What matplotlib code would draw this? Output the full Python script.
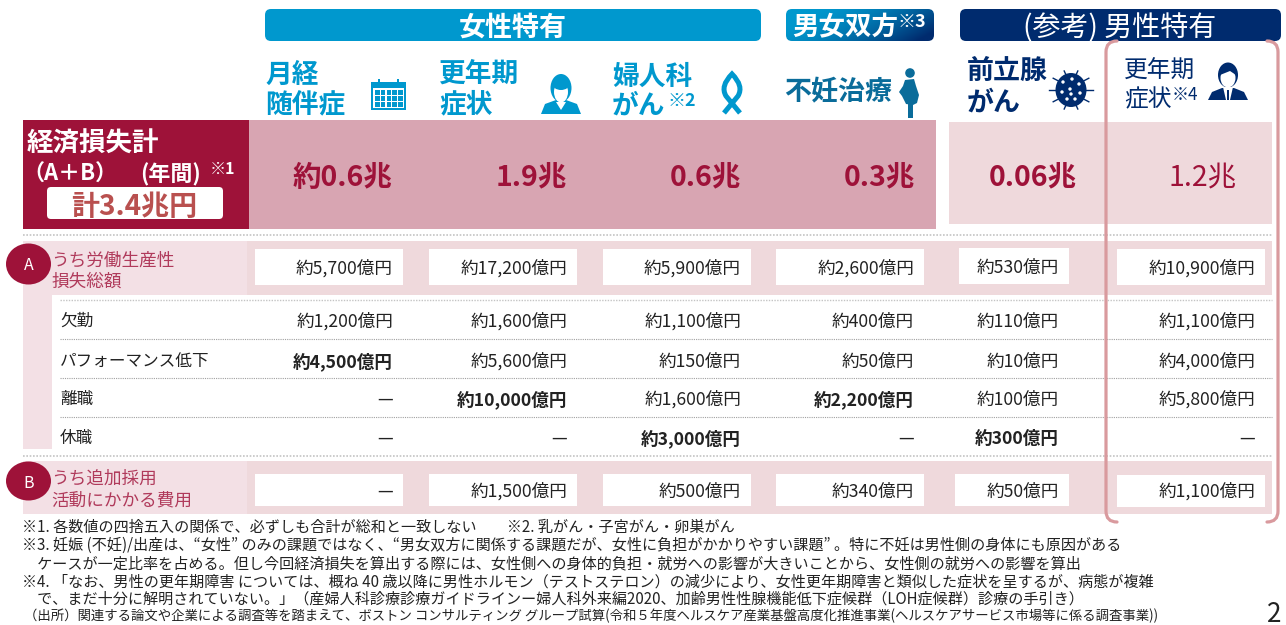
import numpy as np
import matplotlib
matplotlib.use('Agg')
import matplotlib.pyplot as plt
from matplotlib.patches import Rectangle, FancyBboxPatch, Circle, Ellipse, Polygon
from matplotlib.path import Path
from matplotlib.patches import PathPatch

plt.rcParams['font.family'] = ['Noto Sans CJK JP', 'DejaVu Sans']

# datos de la tabla
totals = ['約0.6兆', '1.9兆', '0.6兆', '0.3兆', '0.06兆', '1.2兆']
row_a = ['約5,700億円', '約17,200億円', '約5,900億円', '約2,600億円', '約530億円', '約10,900億円']
absent = ['約1,200億円', '約1,600億円', '約1,100億円', '約400億円', '約110億円', '約1,100億円']
perform = ['約4,500億円', '約5,600億円', '約150億円', '約50億円', '約10億円', '約4,000億円']
leave = ['—', '約10,000億円', '約1,600億円', '約2,200億円', '約100億円', '約5,800億円']
suspend = ['—', '—', '約3,000億円', '—', '約300億円', '—']
row_b = ['—', '約1,500億円', '約500億円', '約340億円', '約50億円', '約1,100億円']
sub_labels = ['欠勤', 'パフォーマンス低下', '離職', '休職']
sub_rows = [absent, perform, leave, suspend]
bold_cells = [(1, 0), (2, 1), (3, 2), (2, 3), (3, 4)]  # (fila, columna)

footnotes = [
    '※1. 各数値の四捨五入の関係で、必ずしも合計が総和と一致しない　　※2. 乳がん・子宮がん・卵巣がん',
    '※3. 妊娠 (不妊)/出産は、“女性” のみの課題ではなく、“男女双方に関係する課題だが、女性に負担がかかりやすい課題” 。特に不妊は男性側の身体にも原因がある',
    '　ケースが一定比率を占める。但し今回経済損失を算出する際には、女性側への身体的負担・就労への影響が大きいことから、女性側の就労への影響を算出',
    '※4. 「なお、男性の更年期障害 については、概ね 40 歳以降に男性ホルモン（テストステロン）の減少により、女性更年期障害と類似した症状を呈するが、病態が複雑',
    '　で、まだ十分に解明されていない。」（産婦人科診療診療ガイドラインー婦人科外来編2020、加齢男性性腺機能低下症候群（LOH症候群）診療の手引き）',
]
source = '（出所）関連する論文や企業による調査等を踏まえて、ボストン コンサルティング グループ試算(令和５年度ヘルスケア産業基盤高度化推進事業(ヘルスケアサービス市場等に係る調査事業))'

# colores
CRIMSON = '#9E1239'
PINK = '#D8A5B2'
LIGHT = '#EFD9DC'
LIGHTER = '#F3E0E5'
BLUE = '#0098CE'
NAVY = '#002B6E'
TEAL = '#0A6C9A'
BRACKET = '#D99A9E'
INK = '#222222'
LABEL = '#B03A5B'

# posiciones (pixeles de la imagen)
col_right = [393, 567, 741, 914, 1059, 1255]
cell_a = [(255, 403), (429, 577), (603, 751), (776, 924), (959, 1069), (1117, 1265)]
cell_b = [(255, 403), (429, 577), (603, 751), (776, 924), (955, 1069), (1117, 1265)]
sub_y = [319.5, 359.5, 397.5, 436.5]
total_right = [392, 567, 741, 915, 1077, 1237]
CELL = 17.6

fig = plt.figure(figsize=(12.86, 6.25), dpi=100)
ax = fig.add_axes([0, 0, 1, 1])


def px(size):
    return size * 0.72


def rect(x0, y0, x1, y1, color, z=1):
    ax.add_patch(Rectangle((x0, y0), x1 - x0, y1 - y0, fc=color, ec='none', zorder=z))


def rbox(x0, y0, x1, y1, color, r=6, z=2):
    p = FancyBboxPatch((x0, y0), x1 - x0, y1 - y0, boxstyle=f'round,pad=0,rounding_size={r}',
                       fc=color, ec='none', zorder=z)
    ax.add_patch(p)
    return p


def txt(x, y, s, size, color=INK, weight='normal', ha='left', z=5):
    return ax.text(x, y, s, fontsize=px(size), color=color, fontweight=weight, ha=ha,
                   va='center_baseline', zorder=z)


def dotted(x0, x1, y, lw=0.8, color='#a0a0a0'):
    ax.plot([x0, x1], [y, y], color=color, lw=lw, ls=(0, (1, 1)), zorder=3)


# cabeceras de grupo
rbox(265, 9, 761, 41, BLUE)
txt(513, 24.5, '女性特有', 27, 'white', 'bold', 'center')
grad_box = rbox(786, 9, 934, 41, 'none')
grad = np.linspace(0, 1, 200).reshape(1, -1)
yy = np.linspace(0, 1, 40).reshape(-1, 1)
mix = np.clip(grad * 0.9 + yy * 0.35 - 0.15, 0, 1) ** 1.6
c0 = np.array([0x00, 0x98, 0xCE]) / 255
c1 = np.array([0x00, 0x2B, 0x6E]) / 255
rgb = c0[None, None, :] * (1 - mix[..., None]) + c1[None, None, :] * mix[..., None]
im = ax.imshow(rgb, extent=[786, 934, 41, 9], aspect='auto', zorder=2)
im.set_clip_path(grad_box)
txt(792, 25, '男女双方', 26.5, 'white', 'bold')
txt(897, 20, '※3', 18, 'white', 'bold')
rbox(960, 9, 1281, 41, NAVY)
txt(1120, 24.5, '(参考) 男性特有', 28, 'white', 'normal', 'center')

# nombres de columnas
txt(265, 72, '月経', 26.7, BLUE, 'bold')
txt(265, 103, '随伴症', 26.7, BLUE, 'bold')
txt(439, 71, '更年期', 26.7, BLUE, 'bold')
txt(439, 102, '症状', 26.7, BLUE, 'bold')
txt(612, 74, '婦人科', 26.7, BLUE, 'bold')
txt(612, 103, 'がん', 26.7, BLUE, 'bold')
txt(668, 99, '※2', 18, BLUE, 'bold')
txt(784, 89, '不妊治療', 27, TEAL, 'bold')
txt(967, 68, '前立腺', 27, NAVY, 'bold')
txt(967, 100, 'がん', 27, NAVY, 'bold')
txt(1124, 69, '更年期', 23.7, NAVY)
txt(1124, 97, '症状', 23.7, NAVY)
txt(1172, 93, '※4', 17, NAVY)

# iconos
# calendario
rect(371, 82, 406, 110, BLUE, 3)
rect(373, 88, 404, 108, 'white', 3)
for i in range(5):
    for j in range(3):
        rect(375 + i * 5.8, 90 + j * 6, 379.5 + i * 5.8, 94.5 + j * 6, BLUE, 4)
rect(378, 79, 380, 86, BLUE, 4)
rect(397, 79, 399, 86, BLUE, 4)
# mujer
ax.add_patch(Polygon([(541, 114), (545, 104), (556, 100), (566, 100), (577, 104), (581, 114)], fc=BLUE, zorder=3))
ax.add_patch(Ellipse((561, 88), 21, 28, fc=BLUE, zorder=3))
ax.add_patch(Ellipse((561, 92), 14, 21, fc='white', zorder=4))
ax.add_patch(Ellipse((561, 84), 17, 12, fc=BLUE, zorder=5))
ax.add_patch(Polygon([(556, 102), (561, 110), (566, 102)], fc='white', zorder=4))
# lazo
rib = Path([(724, 113), (738, 96), (744, 86), (732, 74), (720, 86), (726, 96), (740, 113)],
           [Path.MOVETO, Path.LINETO, Path.CURVE3, Path.CURVE3, Path.CURVE3, Path.CURVE3, Path.LINETO])
ax.add_patch(PathPatch(rib, fc='none', ec=BLUE, lw=3.6, zorder=3))
# embarazada
ax.add_patch(Circle((910, 73), 4.8, fc=TEAL, zorder=3))
ax.add_patch(Polygon([(905, 80), (914, 79), (916, 86), (919, 95), (917, 103), (913, 105), (906, 104),
                      (902, 96), (899, 92), (903, 86)], fc=TEAL, zorder=3))
rect(908, 103, 913, 118, TEAL, 3)
# virus
for a in np.linspace(0, 2 * np.pi, 10, endpoint=False):
    ax.plot([1071 + 15 * np.cos(a), 1071 + 22 * np.cos(a)], [90 + 15 * np.sin(a), 90 + 20 * np.sin(a)],
            color=NAVY, lw=1, zorder=3)
ax.add_patch(Ellipse((1071, 90), 31, 34, fc=NAVY, zorder=4))
for dx, dy in [(-8, -8), (1, -11), (8, -6), (-9, 2), (-1, -1), (9, 3), (-4, 9), (4, 9), (0, 4)]:
    ax.add_patch(Circle((1071 + dx, 90 + dy), 1.7, fc='white', zorder=5))
# hombre
ax.add_patch(Polygon([(1208, 100), (1212, 92), (1222, 88), (1234, 88), (1244, 92), (1248, 100)], fc=NAVY, zorder=3))
ax.add_patch(Polygon([(1223, 87), (1233, 87), (1230, 100), (1226, 100)], fc='white', zorder=4))
rect(1227, 90, 1229, 100, NAVY, 5)
ax.add_patch(Ellipse((1228, 75), 20, 25, fc=NAVY, zorder=3))
ax.add_patch(Ellipse((1228, 78), 15, 19, fc='white', zorder=4))
ax.add_patch(Polygon([(1220, 75), (1222, 67), (1234, 67), (1236, 75), (1230, 71)], fc=NAVY, zorder=5))

# fila de totales
rect(23, 120, 249, 229, CRIMSON)
txt(27, 141, '経済損失計', 26.5, 'white', 'bold')
txt(22, 172, '（A＋B）', 22, 'white', 'bold')
txt(140, 172, '(年間)', 22, 'white', 'bold')
txt(210, 167, '※1', 16, 'white', 'bold')
rbox(47, 187, 223, 219, 'white', 4)
txt(134, 204, '計3.4兆円', 28, '#B9504F', 'bold', 'center')
rect(249, 120, 936, 229, PINK)
rect(949, 122, 1272, 224, LIGHT)
for i, (x, val) in enumerate(zip(total_right, totals)):
    txt(x, 175, val, 28.5, CRIMSON, 'normal' if i == 5 else 'bold', 'right')

# bandas A y B
dotted(23, 1272, 235, 1.2, '#c4c4c4')
rect(23, 241, 1272, 295, LIGHT)
rect(23, 241, 247, 295, LIGHTER)
rect(23, 295, 52, 449, LIGHTER)
dotted(23, 1272, 456, 1.2, '#c4c4c4')
rect(23, 461, 1272, 514, LIGHT)
rect(23, 461, 247, 514, LIGHTER)
dotted(60, 1272, 300, 1.0, '#c4c4c4')
for y in [339, 378, 417]:
    dotted(60, 1272, y)

ax.add_patch(Ellipse((28.5, 264), 45, 41, fc=CRIMSON, zorder=4))
txt(28.5, 264, 'A', 16, 'white', 'normal', 'center')
ax.add_patch(Ellipse((28.5, 481), 45, 39, fc=CRIMSON, zorder=4))
txt(28.5, 481, 'B', 16, 'white', 'normal', 'center')
txt(51, 259, 'うち労働生産性', 17.6, LABEL)
txt(51, 280, '損失総額', 17.6, LABEL)
txt(51, 477, 'うち追加採用', 17.6, LABEL)
txt(51, 498, '活動にかかる費用', 17.6, LABEL)

for i, ((x0, x1), val) in enumerate(zip(cell_a, row_a)):
    off = -1 if i == 4 else 0
    rect(x0, 249 + off, x1, 285 + off, 'white', 2)
    txt(col_right[i], 266.5 + off, val, CELL, INK, 'normal', 'right')
for i, ((x0, x1), val) in enumerate(zip(cell_b, row_b)):
    off = 1 if i == 5 else 0
    rect(x0, 474 + off, x1, 506 + off, 'white', 2)
    txt(col_right[i], 489.5, val, CELL, INK, 'normal', 'right')

for r, (label, vals, y) in enumerate(zip(sub_labels, sub_rows, sub_y)):
    txt(60, y, label, 16.6, INK)
    for c, val in enumerate(vals):
        w = 'bold' if (r, c) in bold_cells else 'normal'
        txt(col_right[c], y, val, CELL, INK, w, 'right')


# corchete del ultimo grupo
def bracket(x0, x1, side):
    xe, xt = (x0, x0 + 11) if side == 'left' else (x1, x1 - 11)
    verts = [(xt, 41), (xe, 41), (xe, 52), (xe, 511), (xe, 522), (xt, 522)]
    codes = [Path.MOVETO, Path.CURVE3, Path.CURVE3, Path.LINETO, Path.CURVE3, Path.CURVE3]
    ax.add_patch(PathPatch(Path(verts, codes), fc='none', ec=BRACKET, lw=2.3, zorder=6, capstyle='round'))


bracket(1106, 1278, 'left')
bracket(1106, 1278, 'right')

# notas
for line, y in zip(footnotes, [525, 543, 562, 580, 597]):
    txt(22, y, line, 15.1, INK)
txt(24, 614, source, 13.4, INK)
txt(1274, 611, '2', 26, INK, 'normal', 'center')

ax.set_xlim(0, 1286)
ax.set_ylim(625, 0)
ax.axis('off')
fig.savefig('out.png', dpi=100)
